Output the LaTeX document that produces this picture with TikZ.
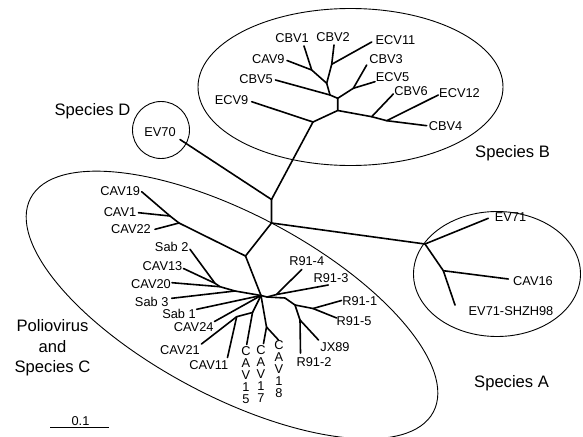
\documentclass[tikz,border=0pt]{standalone}
\usepackage{fontspec}
\setmainfont{Liberation Sans}
\begin{document}
\begin{tikzpicture}[x=1pt,y=-1pt,
  branch/.style={line width=1.6pt, line cap=round, line join=round},
  hull/.style={line width=0.9pt},
  scalebar/.style={line width=1.5pt},
  leaf/.style={font=\fontsize{12.8}{14}\selectfont, inner sep=0pt, anchor=base},
  vleaf/.style={font=\fontsize{12.8}{11.9}\selectfont, inner sep=0pt, anchor=north, align=center},
  species/.style={font=\fontsize{16.6}{20.3}\selectfont, inner sep=0pt}]

\fill[white] (0,0) rectangle (583,436);
\useasboundingbox (0,0) rectangle (583,436);

% ---------- group outlines ----------
\draw[hull] (350.5,87) ellipse [x radius=152.5, y radius=78.5];
\draw[hull] (161,130) circle [radius=28.5];
\draw[hull] (497,274) ellipse [x radius=83.5, y radius=62.5];
\draw[hull, rotate around={-28:(232,305)}] (232,305) ellipse [x radius=228, y radius=91];

% ---------- backbone ----------
\coordinate (r0) at (271.5,199.5);
\coordinate (r1) at (271.5,223);
\coordinate (bj) at (313,122);
\coordinate (ev70t) at (180,139.5);
\coordinate (aj) at (425,244);
\coordinate (cj) at (245.5,256);

\draw[branch] (ev70t) -- (r0) -- (bj);
\draw[branch] (r0) -- (r1) -- (aj);
\draw[branch] (r1) -- (cj);

% ---------- species B ----------
\coordinate (bv) at (337.7,110.5);
\coordinate (bt) at (337.7,98.3);
\coordinate (bl) at (330,95);
\coordinate (ba) at (326.7,83.3);
\coordinate (bc1) at (311.7,70);
\coordinate (bc2) at (331.7,64.3);
\coordinate (br) at (353.3,88.3);
\coordinate (cbv1t) at (304,46);
\coordinate (cav9t) at (287,60.5);
\coordinate (cbv2t) at (334,45);
\coordinate (ecv11t) at (371.7,42);
\coordinate (cbv5t) at (275.5,80);
\coordinate (cbv3t) at (366.7,65);
\coordinate (ecv5t) at (375,81.7);
\coordinate (ecv9t) at (251.7,101.7);
\coordinate (b4a) at (371.7,116.7);
\coordinate (b4b) at (386.7,120.7);
\coordinate (cbv4t) at (426.7,125.7);
\coordinate (cbv6t) at (393.3,94);
\coordinate (ecv12t) at (438.3,95);

\draw[branch] (bj) -- (ecv9t);
\draw[branch] (bj) -- (bv) -- (bt) -- (bl) -- (cbv5t);
\draw[branch] (bl) -- (ba) -- (bc1) -- (cbv1t);
\draw[branch] (bc1) -- (cav9t);
\draw[branch] (ba) -- (bc2) -- (cbv2t);
\draw[branch] (bc2) -- (ecv11t);
\draw[branch] (bt) -- (br) -- (cbv3t);
\draw[branch] (br) -- (ecv5t);
\draw[branch] (bv) -- (b4a) -- (b4b) -- (cbv4t);
\draw[branch] (b4a) -- (cbv6t);
\draw[branch] (b4b) -- (ecv12t);

% ---------- species A ----------
\coordinate (a2) at (443.3,270.7);
\coordinate (ev71t) at (488.3,218.3);
\coordinate (cav16t) at (508.3,279);
\coordinate (shzht) at (455,305);
\draw[branch] (aj) -- (ev71t);
\draw[branch] (aj) -- (a2) -- (cav16t);
\draw[branch] (a2) -- (shzht);

% ---------- species C ----------
\coordinate (jc1) at (170,216);
\coordinate (jc2) at (179,223);
\coordinate (cav19t) at (141.7,191.7);
\coordinate (cav1t) at (138.5,212.7);
\coordinate (cav22t) at (155,229.3);
\draw[branch] (cj) -- (jc2) -- (jc1) -- (cav19t);
\draw[branch] (jc1) -- (cav1t);
\draw[branch] (jc2) -- (cav22t);

\coordinate (h1) at (261,295.5);
\coordinate (h2) at (267,297);
\coordinate (lg1) at (215,283.3);
\coordinate (lg2) at (220,286.7);
\coordinate (lg3) at (235,291);
\coordinate (sab2t) at (190,249.3);
\coordinate (cav13t) at (183.5,268.5);
\coordinate (cav20t) at (172,282.7);
\coordinate (sab3t) at (171.7,298.3);
\coordinate (sab1t) at (196.7,309.3);
\coordinate (cav24t) at (214.5,321.5);
\draw[branch] (cj) -- (h1);
\draw[branch] (h1) -- (lg3) -- (lg2) -- (lg1) -- (sab2t);
\draw[branch] (lg1) -- (cav13t);
\draw[branch] (lg2) -- (cav20t);
\draw[branch] (lg3) -- (sab3t);
\draw[branch] (h1) -- (sab1t);
\draw[branch] (h1) -- (cav24t);

\coordinate (j2111) at (236.7,316.7);
\coordinate (j15) at (252.5,312.5);
\coordinate (cav21t) at (201.5,344);
\coordinate (cav11t) at (227.5,357.5);
\coordinate (cav15t) at (246.7,344.5);
\draw[branch] (h1) -- (j15) -- (j2111) -- (cav21t);
\draw[branch] (j2111) -- (cav11t);
\draw[branch] (j15) -- (cav15t);

\coordinate (j1718) at (266.5,327);
\coordinate (cav17t) at (263.5,343.5);
\coordinate (cav18t) at (278.5,340);
\draw[branch] (h1) -- (j1718) -- (cav17t);
\draw[branch] (j1718) -- (cav18t);

\coordinate (ra) at (276.5,294.5);
\coordinate (rb) at (285,298);
\coordinate (rc) at (295,305);
\coordinate (rd) at (300,320);
\coordinate (re) at (313,308.5);
\coordinate (r914t) at (301.7,269.5);
\coordinate (r913t) at (328.3,285);
\coordinate (r912t) at (300.5,353);
\coordinate (r911t) at (341.5,300.5);
\coordinate (r915t) at (336.7,318);
\coordinate (jx89t) at (318.5,340);
\draw[branch] (h1) -- (h2) -- (ra) -- (r913t);
\draw[branch] (ra) -- (r914t);
\draw[branch] (h2) -- (rb) -- (rc) -- (rd) -- (r912t);
\draw[branch] (rc) -- (re) -- (r911t);
\draw[branch] (re) -- (r915t);
\draw[branch] (rd) -- (jx89t);

% ---------- scale bar ----------
\coordinate (s0) at (50,427.7);
\coordinate (s1) at (109.3,427.7);
\draw[scalebar] (s0) -- (s1);
\node[leaf] (scl) at (80.5,425) {0.1};

% ---------- leaf labels ----------
\node[leaf] (lCBV1) at (292,43) {CBV1};
\node[leaf] (lCBV2) at (333,41.7) {CBV2};
\node[leaf] (lECV11) at (395.5,45) {ECV11};
\node[leaf] (lCAV9) at (268.3,63.3) {CAV9};
\node[leaf] (lCBV3) at (386,63.3) {CBV3};
\node[leaf] (lCBV5) at (256,83.3) {CBV5};
\node[leaf] (lECV5) at (392.5,81.7) {ECV5};
\node[leaf] (lCBV6) at (411,95) {CBV6};
\node[leaf] (lECV12) at (459.5,97) {ECV12};
\node[leaf] (lCBV4) at (445.5,130) {CBV4};
\node[leaf] (lECV9) at (231.5,104) {ECV9};
\node[leaf] (lEV70) at (160,136) {EV70};
\node[leaf] (lEV71) at (510.5,221.7) {EV71};
\node[leaf] (lCAV16) at (533,285) {CAV16};
\node[leaf] (lSHZH) at (511,315) {EV71-SHZH98};
\node[leaf] (lCAV19) at (120.3,195) {CAV19};
\node[leaf] (lCAV1) at (120,216.7) {CAV1};
\node[leaf] (lCAV22) at (131,233.3) {CAV22};
\node[leaf] (lSab2) at (171.7,251.7) {Sab 2};
\node[leaf] (lCAV13) at (162.5,270) {CAV13};
\node[leaf] (lCAV20) at (151,288.3) {CAV20};
\node[leaf] (lSab3) at (151.7,306.7) {Sab 3};
\node[leaf] (lSab1) at (179,318.3) {Sab 1};
\node[leaf] (lCAV24) at (193.7,331.7) {CAV24};
\node[leaf] (lCAV21) at (180,354) {CAV21};
\node[leaf] (lCAV11) at (208.8,369.3) {CAV11};
\node[leaf] (lR914) at (306.7,265) {R91-4};
\node[leaf] (lR913) at (331,282.7) {R91-3};
\node[leaf] (lR911) at (359.7,305) {R91-1};
\node[leaf] (lR915) at (354,325) {R91-5};
\node[leaf] (lJX89) at (335,351.7) {JX89};
\node[leaf] (lR912) at (314,366) {R91-2};
\node[vleaf] (lCAV15) at (246,346.7) {C\\A\\V\\1\\5};
\node[vleaf] (lCAV17) at (261,345.5) {C\\A\\V\\1\\7};
\node[vleaf] (lCAV18) at (279,340.5) {C\\A\\V\\1\\8};

% ---------- species labels ----------
\node[species, anchor=base] (spD) at (92.5,115.2) {Species D};
\node[species, anchor=base west] (spB) at (475,157.5) {Species B};
\node[species, anchor=base west] (spA) at (474,387) {Species A};
\node[species, anchor=north, align=center] (spC) at (52.5,319.5) {Poliovirus\\and\\Species C};

\end{tikzpicture}
\end{document}
